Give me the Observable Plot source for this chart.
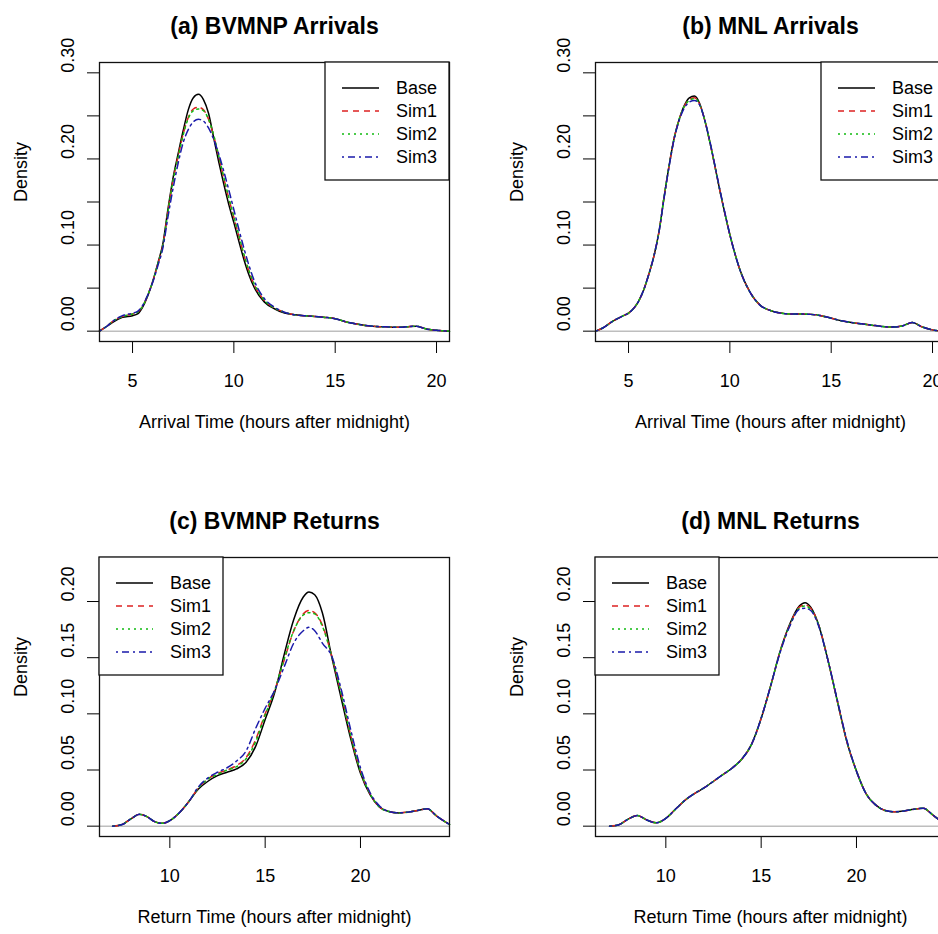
<!DOCTYPE html>
<html><head><meta charset="utf-8">
<script src="https://cdn.jsdelivr.net/npm/d3@7"></script>
<script src="https://cdn.jsdelivr.net/npm/@observablehq/plot@0.6"></script>
<style>
body{margin:0;background:#fff;}
#wrap{position:relative;width:938px;height:934px;overflow:hidden;background:#fff;}
#wrap > svg{position:absolute;}
</style></head><body><div id="wrap"></div>
<script>
const seriesNames = ["Base", "Sim1", "Sim2", "Sim3"];

// (a) BVMNP Arrivals
const xA = [3.37, 3.75, 4.0, 4.5, 5.0, 5.25, 5.5, 5.75, 6.0, 6.25, 6.5, 6.75, 7.0, 7.25, 7.5, 7.75, 8.0, 8.25, 8.5, 8.75, 9.0, 9.25, 9.5, 9.75, 10.0, 10.25, 10.5, 10.75, 11.0, 11.5, 12.0, 12.5, 13.0, 13.5, 14.0, 14.5, 15.0, 15.5, 16.0, 16.5, 17.0, 17.5, 18.0, 18.5, 19.0, 19.5, 20.0, 20.64];
const baseA = [0, 0.006, 0.010, 0.016, 0.018, 0.020, 0.028, 0.041, 0.058, 0.079, 0.102, 0.142, 0.178, 0.206, 0.233, 0.257, 0.271, 0.275, 0.269, 0.253, 0.225, 0.197, 0.171, 0.147, 0.126, 0.104, 0.083, 0.065, 0.051, 0.034, 0.026, 0.021, 0.019, 0.018, 0.017, 0.016, 0.0145, 0.011, 0.0085, 0.0065, 0.0055, 0.005, 0.0045, 0.005, 0.0058, 0.0025, 0.001, 0];
const sim1A = [0, 0.006, 0.011, 0.017, 0.020, 0.022, 0.029, 0.042, 0.058, 0.078, 0.100, 0.139, 0.175, 0.203, 0.229, 0.248, 0.258, 0.260, 0.257, 0.246, 0.227, 0.203, 0.178, 0.154, 0.132, 0.110, 0.088, 0.069, 0.054, 0.036, 0.027, 0.022, 0.019, 0.018, 0.017, 0.016, 0.0145, 0.011, 0.0085, 0.0065, 0.0055, 0.005, 0.0045, 0.005, 0.0058, 0.0025, 0.001, 0];
const sim2A = [0, 0.006, 0.011, 0.017, 0.020, 0.022, 0.029, 0.042, 0.058, 0.078, 0.100, 0.139, 0.175, 0.202, 0.228, 0.247, 0.256, 0.258, 0.256, 0.246, 0.228, 0.204, 0.179, 0.155, 0.133, 0.111, 0.089, 0.070, 0.055, 0.036, 0.027, 0.022, 0.019, 0.018, 0.017, 0.016, 0.0145, 0.011, 0.0085, 0.0065, 0.0055, 0.005, 0.0045, 0.005, 0.0058, 0.0025, 0.001, 0];
const sim3A = [0, 0.006, 0.011, 0.018, 0.021, 0.023, 0.030, 0.042, 0.057, 0.076, 0.097, 0.133, 0.166, 0.195, 0.219, 0.234, 0.243, 0.246, 0.244, 0.236, 0.223, 0.206, 0.186, 0.164, 0.141, 0.118, 0.096, 0.076, 0.059, 0.038, 0.028, 0.022, 0.019, 0.018, 0.017, 0.016, 0.0145, 0.011, 0.0085, 0.0065, 0.0055, 0.005, 0.0045, 0.005, 0.0058, 0.0025, 0.001, 0];

// (b) MNL Arrivals
const xB = [3.39, 3.75, 4.25, 4.75, 5.0, 5.5, 5.75, 6.0, 6.25, 6.5, 6.75, 7.0, 7.25, 7.5, 7.75, 8.0, 8.25, 8.5, 8.75, 9.0, 9.25, 9.5, 9.75, 10.0, 10.25, 10.5, 11.0, 11.5, 12.0, 12.5, 13.0, 13.5, 14.0, 14.5, 15.0, 15.5, 16.0, 16.5, 17.0, 17.5, 18.0, 18.5, 19.0, 19.5, 20.0, 20.64];
const baseB = [0, 0.004, 0.012, 0.018, 0.021, 0.035, 0.048, 0.066, 0.087, 0.115, 0.155, 0.192, 0.224, 0.246, 0.262, 0.271, 0.273, 0.265, 0.246, 0.221, 0.193, 0.164, 0.137, 0.112, 0.090, 0.071, 0.045, 0.030, 0.024, 0.021, 0.020, 0.020, 0.0195, 0.018, 0.015, 0.012, 0.010, 0.0085, 0.007, 0.0055, 0.0047, 0.006, 0.010, 0.0048, 0.0015, 0];
const sim1B = [0, 0.004, 0.012, 0.018, 0.021, 0.035, 0.048, 0.066, 0.087, 0.115, 0.155, 0.192, 0.224, 0.246, 0.261, 0.269, 0.271, 0.264, 0.246, 0.221, 0.193, 0.164, 0.137, 0.112, 0.090, 0.071, 0.045, 0.030, 0.024, 0.021, 0.020, 0.020, 0.0195, 0.018, 0.015, 0.012, 0.010, 0.0085, 0.007, 0.0055, 0.0047, 0.006, 0.010, 0.0048, 0.0015, 0];
const sim2B = [0, 0.004, 0.012, 0.018, 0.021, 0.035, 0.048, 0.066, 0.087, 0.115, 0.155, 0.192, 0.224, 0.246, 0.261, 0.268, 0.270, 0.264, 0.246, 0.221, 0.193, 0.164, 0.137, 0.112, 0.090, 0.071, 0.045, 0.030, 0.024, 0.021, 0.020, 0.020, 0.0195, 0.018, 0.015, 0.012, 0.010, 0.0085, 0.007, 0.0055, 0.0047, 0.006, 0.010, 0.0048, 0.0015, 0];
const sim3B = [0, 0.004, 0.012, 0.018, 0.021, 0.035, 0.048, 0.066, 0.087, 0.115, 0.154, 0.191, 0.223, 0.245, 0.259, 0.266, 0.268, 0.263, 0.246, 0.222, 0.194, 0.165, 0.138, 0.112, 0.090, 0.071, 0.045, 0.030, 0.024, 0.021, 0.020, 0.020, 0.0195, 0.018, 0.015, 0.012, 0.010, 0.0085, 0.007, 0.0055, 0.0047, 0.006, 0.010, 0.0048, 0.0015, 0];

// (c) BVMNP Returns
const xC = [7.0, 7.5, 8.0, 8.4, 8.8, 9.2, 9.6, 10.0, 10.5, 11.0, 11.5, 12.0, 12.5, 13.0, 13.5, 14.0, 14.5, 15.0, 15.5, 16.0, 16.5, 17.0, 17.3, 17.6, 18.0, 18.5, 19.0, 19.5, 20.0, 20.5, 21.0, 21.5, 22.0, 22.5, 23.0, 23.5, 24.0, 24.67];
const baseC = [0, 0.0015, 0.007, 0.0105, 0.0085, 0.004, 0.0025, 0.005, 0.012, 0.022, 0.033, 0.040, 0.045, 0.048, 0.051, 0.057, 0.071, 0.095, 0.119, 0.153, 0.184, 0.204, 0.2085, 0.206, 0.190, 0.150, 0.113, 0.077, 0.047, 0.028, 0.017, 0.013, 0.0118, 0.0125, 0.014, 0.0155, 0.009, 0.0015];
const sim1C = [0, 0.0015, 0.007, 0.0105, 0.0085, 0.004, 0.0025, 0.005, 0.012, 0.022, 0.034, 0.042, 0.047, 0.050, 0.054, 0.061, 0.077, 0.100, 0.121, 0.148, 0.174, 0.189, 0.192, 0.190, 0.179, 0.151, 0.117, 0.080, 0.049, 0.029, 0.017, 0.013, 0.0118, 0.0125, 0.014, 0.0155, 0.009, 0.0015];
const sim2C = [0, 0.0015, 0.007, 0.0105, 0.0085, 0.004, 0.0025, 0.005, 0.012, 0.022, 0.034, 0.042, 0.046, 0.050, 0.053, 0.060, 0.075, 0.099, 0.121, 0.149, 0.174, 0.188, 0.190, 0.189, 0.178, 0.151, 0.117, 0.080, 0.049, 0.029, 0.017, 0.013, 0.0118, 0.0125, 0.014, 0.0155, 0.009, 0.0015];
const sim3C = [0, 0.0015, 0.007, 0.0105, 0.0085, 0.004, 0.0025, 0.005, 0.012, 0.022, 0.035, 0.043, 0.048, 0.052, 0.058, 0.067, 0.087, 0.105, 0.121, 0.142, 0.163, 0.174, 0.177, 0.174, 0.163, 0.151, 0.121, 0.085, 0.052, 0.030, 0.018, 0.013, 0.0118, 0.0125, 0.014, 0.0155, 0.009, 0.0015];

// (d) MNL Returns
const xD = [7.05, 7.5, 8.0, 8.5, 9.0, 9.5, 10.0, 10.5, 11.0, 11.5, 12.0, 12.5, 13.0, 13.5, 14.0, 14.5, 15.0, 15.5, 16.0, 16.5, 17.0, 17.3, 17.6, 18.0, 18.5, 19.0, 19.5, 20.0, 20.5, 21.0, 21.5, 22.0, 22.5, 23.0, 23.5, 24.0, 24.67];
const baseD = [0, 0.001, 0.006, 0.0095, 0.0055, 0.003, 0.007, 0.015, 0.023, 0.029, 0.034, 0.040, 0.046, 0.052, 0.060, 0.073, 0.096, 0.125, 0.156, 0.180, 0.196, 0.199, 0.195, 0.180, 0.148, 0.111, 0.075, 0.049, 0.029, 0.019, 0.014, 0.0128, 0.0135, 0.015, 0.016, 0.010, 0.001];
const sim1D = [0, 0.001, 0.006, 0.0095, 0.0055, 0.003, 0.007, 0.015, 0.023, 0.029, 0.034, 0.040, 0.046, 0.052, 0.060, 0.073, 0.096, 0.125, 0.156, 0.179, 0.195, 0.197, 0.194, 0.180, 0.148, 0.111, 0.075, 0.049, 0.029, 0.019, 0.014, 0.0128, 0.0135, 0.015, 0.016, 0.010, 0.001];
const sim2D = [0, 0.001, 0.006, 0.0095, 0.0055, 0.003, 0.007, 0.015, 0.023, 0.029, 0.034, 0.040, 0.046, 0.052, 0.060, 0.073, 0.096, 0.125, 0.156, 0.179, 0.194, 0.196, 0.193, 0.180, 0.148, 0.111, 0.075, 0.049, 0.029, 0.019, 0.014, 0.0128, 0.0135, 0.015, 0.016, 0.010, 0.001];
const sim3D = [0, 0.001, 0.006, 0.0095, 0.0055, 0.003, 0.007, 0.015, 0.023, 0.029, 0.034, 0.040, 0.046, 0.052, 0.060, 0.073, 0.096, 0.125, 0.155, 0.178, 0.193, 0.194, 0.192, 0.179, 0.148, 0.112, 0.076, 0.049, 0.029, 0.019, 0.014, 0.0128, 0.0135, 0.015, 0.016, 0.010, 0.001];

// ticks and labels
const arrivalXTicks = [5, 10, 15, 20];
const returnXTicks = [10, 15, 20];
const arrivalYTicks = [0, 0.05, 0.10, 0.15, 0.20, 0.25, 0.30];
const arrivalYLabels = [0, 0.10, 0.20, 0.30];
const returnYTicks = [0, 0.05, 0.10, 0.15, 0.20];
const returnYLabels = [0, 0.05, 0.10, 0.15, 0.20];
const titles = ["(a) BVMNP Arrivals", "(b) MNL Arrivals", "(c) BVMNP Returns", "(d) MNL Returns"];
const xLabels = ["Arrival Time (hours after midnight)", "Return Time (hours after midnight)"];

const colors = ["#000000", "#dd2222", "#11bb11", "#1a1aaa"];
const dashes = ["none", "6,5", "2,4", "2,4,7,4"];
const FONT = "'Liberation Sans', Arial, Helvetica, sans-serif";

function panel(cfg) {
  const lineMarks = cfg.series.map((vals, i) =>
    Plot.line(cfg.xs.map((x, j) => ({x, y: vals[j]})), {
      x: "x", y: "y", stroke: colors[i], strokeWidth: 1.5,
      strokeDasharray: dashes[i], curve: "monotone-x"
    }));
  const svg = Plot.plot({
    width: 495, height: 495,
    marginLeft: 99, marginRight: 46, marginTop: 62, marginBottom: 154,
    style: {fontFamily: FONT, fontSize: "18px", color: "#000", background: "transparent", overflow: "visible"},
    x: {domain: cfg.xDomain, ticks: cfg.xTicks, tickSize: 12, tickPadding: 21, tickFormat: d => String(d), label: null},
    y: {domain: cfg.yDomain, ticks: cfg.yTicks, tickSize: 12, tickFormat: () => "", label: null},
    marks: [
      Plot.ruleY([0], {stroke: "#bebebe", strokeWidth: 1.5}),
      ...lineMarks,
      Plot.frame({stroke: "#111", strokeWidth: 1.3}),
      Plot.text(cfg.yLabels, {y: d => d, text: d => d.toFixed(2), frameAnchor: "left", rotate: -90, dx: -30.8, fontSize: 18}),
      Plot.text([cfg.title], {text: d => d, frameAnchor: "top", dy: -44.4, fontSize: 23, fontWeight: "bold"}),
      Plot.text([cfg.xLabel], {text: d => d, frameAnchor: "bottom", dy: 86, fontSize: 18}),
      Plot.text(["Density"], {text: d => d, frameAnchor: "left", rotate: -90, dx: -77.8, fontSize: 18})
    ]
  });
  // legend (R-style box)
  const g = d3.select(svg).append("g").attr("transform", `translate(${cfg.legendLeft},62)`);
  g.append("rect").attr("width", 124).attr("height", 118).attr("fill", "white")
    .attr("stroke", "#111").attr("stroke-width", 1.3);
  seriesNames.forEach((name, i) => {
    const y = 26 + i * 23;
    g.append("line").attr("x1", 17).attr("x2", 54).attr("y1", y).attr("y2", y)
      .attr("stroke", colors[i]).attr("stroke-width", 1.5)
      .attr("stroke-dasharray", dashes[i]);
    g.append("text").attr("x", 71).attr("y", y).attr("dy", "0.35em")
      .attr("text-anchor", "start")
      .attr("font-size", 18).attr("font-family", FONT).attr("fill", "#000").text(name);
  });
  svg.style.left = cfg.left + "px";
  svg.style.top = cfg.top + "px";
  document.getElementById("wrap").appendChild(svg);
}

const arrDomainX = [3.37, 20.64], arrDomainY = [-0.012, 0.312];
const retDomainX = [6.31, 24.67], retDomainY = [-0.0092, 0.2392];

panel({title: titles[0], xLabel: xLabels[0], xs: xA, series: [baseA, sim1A, sim2A, sim3A],
  xDomain: arrDomainX, yDomain: arrDomainY, xTicks: arrivalXTicks, yTicks: arrivalYTicks, yLabels: arrivalYLabels,
  legendLeft: 325, left: 0, top: 0});
panel({title: titles[1], xLabel: xLabels[0], xs: xB, series: [baseB, sim1B, sim2B, sim3B],
  xDomain: arrDomainX, yDomain: arrDomainY, xTicks: arrivalXTicks, yTicks: arrivalYTicks, yLabels: arrivalYLabels,
  legendLeft: 325, left: 496, top: 0});
panel({title: titles[2], xLabel: xLabels[1], xs: xC, series: [baseC, sim1C, sim2C, sim3C],
  xDomain: retDomainX, yDomain: retDomainY, xTicks: returnXTicks, yTicks: returnYTicks, yLabels: returnYLabels,
  legendLeft: 99, left: 0, top: 495});
panel({title: titles[3], xLabel: xLabels[1], xs: xD, series: [baseD, sim1D, sim2D, sim3D],
  xDomain: retDomainX, yDomain: retDomainY, xTicks: returnXTicks, yTicks: returnYTicks, yLabels: returnYLabels,
  legendLeft: 99, left: 496, top: 495});
</script>
</body></html>
